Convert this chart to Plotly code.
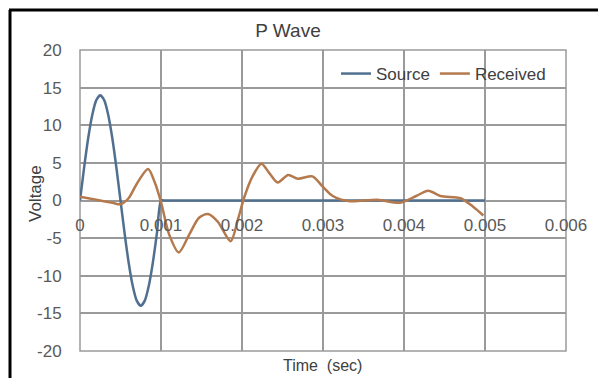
import plotly.graph_objects as go

# Source wave (time in seconds, voltage)
source_t = [0, 0.00005, 0.0001, 0.00015, 0.0002, 0.00025, 0.0003, 0.00035, 0.0004, 0.00045,
            0.0005, 0.00055, 0.0006, 0.00065, 0.0007, 0.00075, 0.0008, 0.00085, 0.0009, 0.00095,
            0.001, 0.00105, 0.0011, 0.002, 0.003, 0.004, 0.005]
source_v = [0, 4.3, 8.2, 11.3, 13.3, 14.0, 13.3, 11.3, 8.2, 4.3,
            0, -4.3, -8.2, -11.3, -13.3, -14.0, -13.3, -11.3, -8.2, -4.3,
            0, 0, 0, 0, 0, 0, 0]

# Received wave
received_t = [0, 0.0002, 0.0004, 0.0005, 0.0006, 0.0007, 0.00084, 0.00092, 0.001, 0.0011,
              0.00122, 0.00135, 0.00147, 0.00158, 0.0017, 0.00186, 0.00195, 0.00203, 0.00213,
              0.00224, 0.00234, 0.00244, 0.00257, 0.00269, 0.00287, 0.003, 0.00312, 0.00333,
              0.00367, 0.00395, 0.00415, 0.0043, 0.00445, 0.0047, 0.00485, 0.00498]
received_v = [0.5, 0.1, -0.3, -0.5, 0.3, 2.2, 4.2, 2.5, -0.2, -4.5,
              -6.9, -4.5, -2.3, -1.8, -2.8, -5.4, -2.5, 0.5, 3.2,
              4.9, 3.6, 2.4, 3.4, 2.9, 3.2, 1.8, 0.6, -0.1,
              0.1, -0.3, 0.6, 1.3, 0.6, 0.3, -0.8, -2.0]

x_ticks = [0, 0.001, 0.002, 0.003, 0.004, 0.005, 0.006]
x_labels = ["0", "0.001", "0.002", "0.003", "0.004", "0.005", "0.006"]
y_ticks = [-20, -15, -10, -5, 0, 5, 10, 15, 20]
y_labels = ["-20", "-15", "-10", "-5", "0", "5", "10", "15", "20"]

FONT = "Liberation Sans, Arial, sans-serif"
GRID = "#9a9a9a"
TXT = "#595959"
DARK = "#404040"

PL, PR, PT, PB = 80, 566, 50, 351
W, H = 598, 378
pw, ph = PR - PL, PB - PT


def px(xp):
    return (xp - PL) / pw


def py(yp):
    return (PB - yp) / ph


fig = go.Figure()
fig.add_trace(go.Scatter(x=source_t, y=source_v, mode="lines", name="Source",
                         line=dict(color="#51708f", width=2.5, shape="spline", smoothing=0.6)))
fig.add_trace(go.Scatter(x=received_t, y=received_v, mode="lines", name="Received",
                         line=dict(color="#b47a4e", width=2.5, shape="spline", smoothing=0.8)))

fig.update_layout(
    width=W, height=H,
    margin=dict(l=PL, r=W - PR, t=PT, b=H - PB),
    paper_bgcolor="white", plot_bgcolor="white",
    font=dict(family=FONT, color=TXT, size=17),
    title=dict(text="P Wave", x=288 / W, xanchor="center", y=1 - 30 / H, yanchor="middle",
               font=dict(size=19, color=DARK)),
    showlegend=True,
    legend=dict(orientation="h", x=px(336), xanchor="left", y=py(74), yanchor="middle",
                bgcolor="rgba(0,0,0,0)", font=dict(size=17, color=DARK),
                tracegroupgap=0),
    xaxis=dict(range=[0, 0.006], tickvals=x_ticks, ticktext=x_labels,
               showgrid=True, gridcolor=GRID, gridwidth=1.5, zeroline=False,
               showline=False, anchor="free", position=0.5,
               ticks="outside", ticklen=9, tickcolor="rgba(0,0,0,0)",
               tickfont=dict(size=17, color=TXT)),
    yaxis=dict(range=[-20, 20], tickvals=y_ticks, ticktext=y_labels, showgrid=True,
               gridcolor=GRID, gridwidth=1.5, zeroline=False, showline=False,
               ticks="outside", ticklen=14, tickcolor="rgba(0,0,0,0)",
               tickfont=dict(size=17, color=TXT)),
    shapes=[
        dict(type="rect", xref="paper", yref="paper", x0=0, y0=0, x1=1, y1=1,
             line=dict(color=GRID, width=1.5), layer="below"),
        dict(type="line", xref="paper", yref="paper", x0=px(10), y0=py(390), x1=px(10), y1=py(10),
             line=dict(color="black", width=3)),
        dict(type="line", xref="paper", yref="paper", x0=px(9), y0=py(10), x1=px(610), y1=py(10),
             line=dict(color="black", width=3)),
    ],
    annotations=[
        dict(text="Time\u00a0 (sec)", xref="paper", yref="paper", x=px(322), y=py(365),
             xanchor="center", yanchor="middle", showarrow=False,
             font=dict(size=16, color=DARK)),
        dict(text="Voltage", xref="paper", yref="paper", x=px(35), y=py(194),
             xanchor="center", yanchor="middle", showarrow=False, textangle=-90,
             font=dict(size=17, color=DARK)),
    ],
)

fig.write_html("out.html")
